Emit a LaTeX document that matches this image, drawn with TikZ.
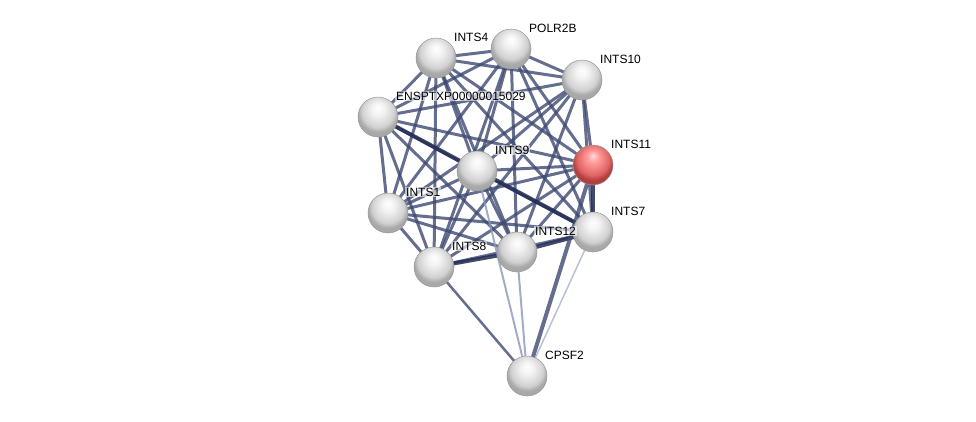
\documentclass[tikz,border=0pt]{standalone}
\usepackage{fontspec}
\setmainfont{Liberation Sans}
\usetikzlibrary{backgrounds}
\definecolor{edgeblue}{RGB}{62,74,114}
\definecolor{edgedark}{RGB}{34,44,84}
\definecolor{edgepale}{RGB}{140,150,185}
\pgfdeclareradialshading{greysphere}{\pgfpoint{0bp}{12bp}}{%
  color(0bp)=(white); color(8bp)=(white!95!black); color(20bp)=(white!82!black);
  color(25bp)=(white!66!black); color(50bp)=(white!66!black)}
\pgfdeclareradialshading{redsphere}{\pgfpoint{0bp}{12bp}}{%
  color(0bp)=(red!15!white); color(8bp)=(red!40!white); color(20bp)=(red!55!white!88!black);
  color(25bp)=(red!65!white!70!black); color(50bp)=(red!65!white!70!black)}
\tikzset{
  protein/.style={circle, minimum size=40pt, inner sep=0pt, draw=black!40, line width=0.5pt, shading=greysphere},
  hub/.style={protein, shading=redsphere},
  lbl/.style={anchor=base west, inner sep=1pt, fill=white, fill opacity=0.6, text opacity=1,
    font=\fontsize{12}{14}\selectfont},
  link/.style={edgeblue, line width=3pt, opacity=0.8},
  strong/.style={edgedark, line width=4pt, opacity=0.85},
  weak/.style={edgepale, line width=2pt, opacity=0.8}
}
\begin{document}
\begin{tikzpicture}[x=1pt, y=-1pt]
  \useasboundingbox (0,0) rectangle (976,421);
  % proteins
  \node[protein] (ints4)  at (436,58)  {};
  \node[protein] (polr2b) at (511,49)  {};
  \node[protein] (ints10) at (582,80)  {};
  \node[protein] (enspt)  at (378,117) {};
  \node[protein] (ints9)  at (477,171) {};
  \node[hub]     (ints11) at (593,165) {};
  \node[protein] (ints1)  at (388,213) {};
  \node[protein] (ints7)  at (593,232) {};
  \node[protein] (ints12) at (517,252) {};
  \node[protein] (ints8)  at (434,267) {};
  \node[protein] (cpsf2)  at (527,376) {};
  % labels
  \foreach \n/\t in {ints4/INTS4, polr2b/POLR2B, ints10/INTS10, enspt/ENSPTXP00000015029,
      ints9/INTS9, ints11/INTS11, ints1/INTS1, ints7/INTS7, ints12/INTS12, ints8/INTS8, cpsf2/CPSF2}
    \node[lbl] (t-\n) at ([shift={(17,-17)}]\n.center) {\t};
  % interactions
  \begin{pgfonlayer}{background}
    \foreach \a/\b in {ints4/polr2b, ints4/ints10, ints4/enspt, ints4/ints9, ints4/ints11,
        ints4/ints1, ints4/ints7, ints4/ints12, ints4/ints8,
        polr2b/ints10, polr2b/enspt, polr2b/ints9, polr2b/ints11, polr2b/ints1,
        polr2b/ints7, polr2b/ints12, polr2b/ints8,
        ints10/enspt, ints10/ints9, ints10/ints11, ints10/ints1, ints10/ints7,
        ints10/ints12, ints10/ints8,
        enspt/ints9, enspt/ints11, enspt/ints1, enspt/ints12, enspt/ints8,
        ints9/ints11, ints9/ints1, ints9/ints12, ints9/ints8,
        ints11/ints1, ints11/ints12, ints11/ints8,
        ints1/ints7, ints1/ints12, ints1/ints8,
        ints7/ints9, ints7/ints8}
      \draw[link] (\a.center) -- (\b.center);
    \foreach \a/\b in {enspt/ints7, ints8/ints12, ints12/ints7, ints11/ints7}
      \draw[strong] (\a.center) -- (\b.center);
    \draw[link, line width=2.5pt] (ints8.center) -- (cpsf2.center);
    \draw[weak] (ints9.center) -- (cpsf2.center);
    \draw[weak] (ints12.center) -- (cpsf2.center);
    \draw[link, line width=4pt] (ints11.center) -- (cpsf2.center);
    \draw[weak, line width=1.5pt, opacity=0.6] (ints7.center) -- (cpsf2.center);
  \end{pgfonlayer}
\end{tikzpicture}
\end{document}
